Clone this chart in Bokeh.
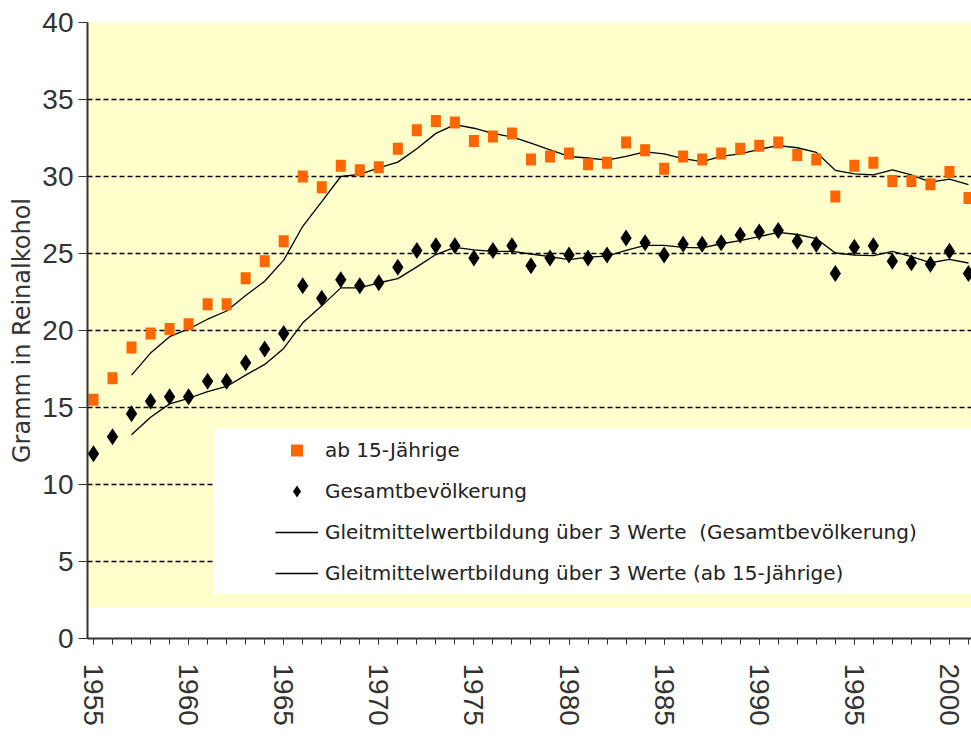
import math
import numpy as np
from bokeh.plotting import figure
from bokeh.models import (Range1d, FixedTicker, BoxAnnotation, Legend, LegendItem,
                          ColumnDataSource)
from bokeh.embed import file_html
from bokeh.resources import INLINE

# ---- data ----
years = list(range(1955, 2002))
ab15 = [15.5, 16.9, 18.9, 19.8, 20.1, 20.4, 21.7, 21.7, 23.4, 24.5,
        25.8, 30.0, 29.3, 30.7, 30.4, 30.6, 31.8, 33.0, 33.6, 33.5,
        32.3, 32.6, 32.8, 31.1, 31.3, 31.5, 30.8, 30.9, 32.2, 31.7,
        30.5, 31.3, 31.1, 31.5, 31.8, 32.0, 32.2, 31.4, 31.1, 28.7,
        30.7, 30.9, 29.7, 29.7, 29.5, 30.3, 28.6]
gesamt = [12.0, 13.1, 14.6, 15.4, 15.7, 15.7, 16.7, 16.7, 17.9, 18.8,
          19.8, 22.9, 22.1, 23.3, 22.9, 23.1, 24.1, 25.2, 25.5, 25.5,
          24.7, 25.2, 25.5, 24.2, 24.7, 24.9, 24.7, 24.9, 26.0, 25.7,
          24.9, 25.6, 25.6, 25.7, 26.2, 26.4, 26.5, 25.8, 25.6, 23.7,
          25.4, 25.5, 24.5, 24.4, 24.3, 25.15, 23.7]
label_years = [1955, 1960, 1965, 1970, 1975, 1980, 1985, 1990, 1995, 2000]
y_ticks = [0, 5, 10, 15, 20, 25, 30, 35, 40]

leg_labels = ["ab 15-Jährige",
              "Gesamtbevölkerung",
              "Gleitmittelwertbildung über 3 Werte  (Gesamtbevölkerung)",
              "Gleitmittelwertbildung über 3 Werte (ab 15-Jährige)"]

# trailing moving average over 3 values
def moving_avg(v, n=3):
    arr = np.asarray(v, dtype=float)
    return list(np.convolve(arr, np.ones(n) / n, mode="valid"))

ma_years = years[2:]
ma_ab15 = moving_avg(ab15)
ma_gesamt = moving_avg(gesamt)

FONT = "DejaVu Sans"
TICK_FONT = "Liberation Sans"
ORANGE = "#FF6600"
YELLOW = "#FFFFCC"

p = figure(width=971, height=738, output_backend="svg", toolbar_location=None,
           x_range=Range1d(1954.685, 2001.16), y_range=Range1d(0, 40),
           min_border_left=87, min_border_right=0, min_border_top=22,
           min_border_bottom=100)
p.outline_line_color = None
p.background_fill_color = "white"
p.border_fill_color = "white"

# yellow plot area (from 2 to 40)
p.add_layout(BoxAnnotation(bottom=2, top=40, fill_color=YELLOW, fill_alpha=1,
                           line_color=None, level="image"))

# grid
p.xgrid.visible = False
p.ygrid.ticker = FixedTicker(ticks=y_ticks)
p.ygrid.grid_line_color = "black"
p.ygrid.grid_line_dash = "5 3"
p.ygrid.grid_line_width = 1.4

src_a = ColumnDataSource(dict(x=years, y=ab15))
src_g = ColumnDataSource(dict(x=years, y=gesamt))
src_ma_a = ColumnDataSource(dict(x=ma_years, y=ma_ab15))
src_ma_g = ColumnDataSource(dict(x=ma_years, y=ma_gesamt))

line_a = p.line("x", "y", source=src_ma_a, line_color="black", line_width=1.3)
line_g = p.line("x", "y", source=src_ma_g, line_color="black", line_width=1.3)

sq_leg = p.scatter("x", "y", source=src_a, marker="square", size=8,
                   fill_color=ORANGE, line_color=None)
p.rect("x", "y", source=src_a, width=10, height=12, width_units="screen",
       height_units="screen", fill_color=ORANGE, line_color=None)
dia = p.scatter("x", "y", source=src_g, marker="diamond", size=17,
                fill_color="black", line_color=None)

# axes
xa = p.xaxis[0]
xa.ticker = FixedTicker(ticks=label_years, minor_ticks=years)
xa.major_label_orientation = -math.pi / 2
xa.major_label_text_font = TICK_FONT
xa.major_label_text_font_size = "28px"
xa.major_label_text_color = "#333333"
xa.major_label_standoff = 19
xa.major_tick_in = 0
xa.major_tick_out = 6
xa.minor_tick_in = 0
xa.minor_tick_out = 6
xa.axis_line_color = "#333333"
xa.axis_line_width = 2
xa.major_tick_line_color = "#333333"
xa.minor_tick_line_color = "#333333"

ya = p.yaxis[0]
ya.ticker = FixedTicker(ticks=y_ticks)
ya.major_label_text_font = TICK_FONT
ya.major_label_text_font_size = "28px"
ya.major_label_text_color = "#333333"
ya.major_label_standoff = 5
ya.major_tick_in = 0
ya.major_tick_out = 9
ya.minor_tick_line_color = None
ya.axis_line_color = "#333333"
ya.axis_line_width = 2
ya.major_tick_line_color = "#333333"
ya.axis_label = "Gramm in Reinalkohol"
ya.axis_label_text_font = FONT
ya.axis_label_text_font_size = "24px"
ya.axis_label_text_font_style = "normal"
ya.axis_label_text_color = "#333333"
ya.axis_label_standoff = 3

# legend: white box + items
p.add_layout(BoxAnnotation(left=1961.3, bottom=2.92, top=13.64,
                           fill_color="white", fill_alpha=1, line_color=None))
legend = Legend(items=[
    LegendItem(label=leg_labels[0], renderers=[sq_leg]),
    LegendItem(label=leg_labels[1], renderers=[dia]),
    LegendItem(label=leg_labels[2], renderers=[line_g]),
    LegendItem(label=leg_labels[3], renderers=[line_a]),
], location=(188, 50), padding=0, margin=0, spacing=11, glyph_width=43,
    glyph_height=30, label_height=30, label_standoff=7,
    background_fill_alpha=0, border_line_alpha=0,
    label_text_font=FONT, label_text_font_size="20px",
    label_text_color="#222222")
p.add_layout(legend)

open("out.html", "w").write(file_html(p, INLINE))
